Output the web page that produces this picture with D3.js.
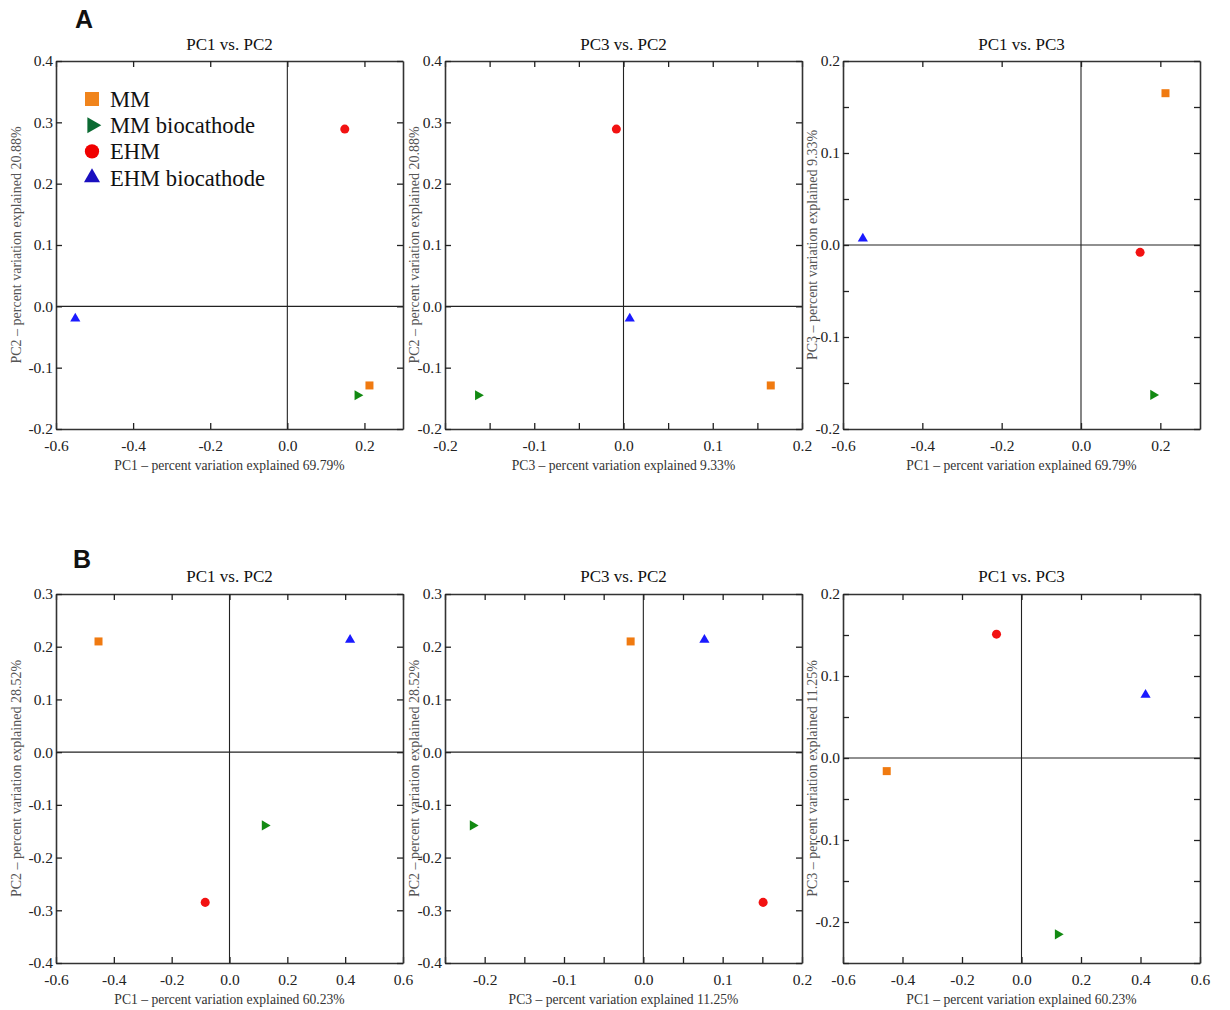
<!DOCTYPE html>
<html>
<head>
<meta charset="utf-8">
<script src="https://cdn.jsdelivr.net/npm/d3@7"></script>
<style>
  body { margin: 0; background: #fff; }
  svg { display: block; }
  text { font-family: "Liberation Serif", "Times New Roman", serif; }
  text.letter { font-family: "Liberation Sans", Arial, sans-serif; font-weight: bold; }
</style>
</head>
<body>
<svg id="chart" width="1230" height="1010"></svg>
<script>
// groups and their scores on the first three axes
const groups = ["MM", "MM biocathode", "EHM", "EHM biocathode"];

// figure A
const pc1A = [0.213, 0.182, 0.149, -0.550];
const pc2A = [-0.129, -0.145, 0.289, -0.020];
const pc3A = [0.165, -0.163, -0.008, 0.007];
const varA = { pc1: "69.79%", pc2: "20.88%", pc3: "9.33%" };

// figure B
const pc1B = [-0.453, 0.122, -0.084, 0.417];
const pc2B = [0.210, -0.139, -0.285, 0.213];
const pc3B = [-0.016, -0.215, 0.151, 0.077];
const varB = { pc1: "60.23%", pc2: "28.52%", pc3: "11.25%" };

const pointColors = ["#f07a10", "#128a12", "#f21212", "#1a1aff"];
const legendColors = ["#f0841c", "#0b6a32", "#f00000", "#1a0fbf"];

const svg = d3.select("#chart");

// frame positions of the 6 panels
const cols = [[56, 403], [445, 802], [843, 1200]];
const rows = [[61, 429], [594, 963]];

const panels = [
  // row A
  { col: 0, row: 0, title: "PC1 vs. PC2", xs: pc1A, ys: pc2A, xLab: "PC1 \u2013 percent variation explained " + varA.pc1, yLab: "PC2 \u2013 percent variation explained " + varA.pc2,
    xd: [-0.6, 0.3], xStep: 0.2, xLabStep: 0.2, yd: [-0.2, 0.4], yStep: 0.1, yLabStep: 0.1, legend: true },
  { col: 1, row: 0, title: "PC3 vs. PC2", xs: pc3A, ys: pc2A, xLab: "PC3 \u2013 percent variation explained " + varA.pc3, yLab: "PC2 \u2013 percent variation explained " + varA.pc2,
    xd: [-0.2, 0.2], xStep: 0.05, xLabStep: 0.1, yd: [-0.2, 0.4], yStep: 0.1, yLabStep: 0.1 },
  { col: 2, row: 0, title: "PC1 vs. PC3", xs: pc1A, ys: pc3A, xLab: "PC1 \u2013 percent variation explained " + varA.pc1, yLab: "PC3 \u2013 percent variation explained " + varA.pc3,
    xd: [-0.6, 0.3], xStep: 0.2, xLabStep: 0.2, yd: [-0.2, 0.2], yStep: 0.05, yLabStep: 0.1 },
  // row B
  { col: 0, row: 1, title: "PC1 vs. PC2", xs: pc1B, ys: pc2B, xLab: "PC1 \u2013 percent variation explained " + varB.pc1, yLab: "PC2 \u2013 percent variation explained " + varB.pc2,
    xd: [-0.6, 0.6], xStep: 0.2, xLabStep: 0.2, yd: [-0.4, 0.3], yStep: 0.1, yLabStep: 0.1 },
  { col: 1, row: 1, title: "PC3 vs. PC2", xs: pc3B, ys: pc2B, xLab: "PC3 \u2013 percent variation explained " + varB.pc3, yLab: "PC2 \u2013 percent variation explained " + varB.pc2,
    xd: [-0.25, 0.2], xStep: 0.05, xLabStep: 0.1, yd: [-0.4, 0.3], yStep: 0.1, yLabStep: 0.1 },
  { col: 2, row: 1, title: "PC1 vs. PC3", xs: pc1B, ys: pc3B, xLab: "PC1 \u2013 percent variation explained " + varB.pc1, yLab: "PC3 \u2013 percent variation explained " + varB.pc3,
    xd: [-0.6, 0.6], xStep: 0.2, xLabStep: 0.2, yd: [-0.25, 0.2], yStep: 0.05, yLabStep: 0.1 }
];

const titleBase = [50, 582];

function tickValues(dom, step) {
  const i0 = Math.ceil(dom[0] / step - 1e-9), i1 = Math.floor(dom[1] / step + 1e-9);
  return d3.range(i0, i1 + 1).map(i => +(i * step).toFixed(4));
}
function fmt(labStep) {
  return d => {
    const r = d / labStep;
    if (Math.abs(r - Math.round(r)) > 1e-6) return "";
    return (Math.round(d * 10) / 10).toFixed(1);
  };
}

// marker shapes, triangle right = up triangle rotated
function marker(sel, gi, size, color) {
  if (gi === 0) {
    sel.append("path").attr("d", d3.symbol(d3.symbolSquare, size)()).attr("fill", color);
  } else if (gi === 1) {
    sel.append("path").attr("d", d3.symbol(d3.symbolTriangle, size * 0.7)()).attr("transform", "rotate(90)").attr("fill", color);
  } else if (gi === 2) {
    sel.append("path").attr("d", d3.symbol(d3.symbolCircle, size)()).attr("fill", color);
  } else {
    sel.append("path").attr("d", d3.symbol(d3.symbolTriangle, size * 0.7)()).attr("fill", color);
  }
}

panels.forEach(p => {
  const [x0, x1] = cols[p.col];
  const [y0, y1] = rows[p.row];
  const x = d3.scaleLinear().domain(p.xd).range([x0, x1]);
  const y = d3.scaleLinear().domain(p.yd).range([y1, y0]);
  const xt = tickValues(p.xd, p.xStep);
  const yt = tickValues(p.yd, p.yStep);
  const g = svg.append("g");

  // zero lines
  g.append("line").attr("x1", x(0)).attr("x2", x(0)).attr("y1", y0).attr("y2", y1)
    .attr("stroke", "#222").attr("stroke-width", 1.1);
  g.append("line").attr("x1", x0).attr("x2", x1).attr("y1", y(0)).attr("y2", y(0))
    .attr("stroke", "#222").attr("stroke-width", 1.1);

  const styleAxis = a => {
    a.selectAll(".domain").attr("stroke", "#333").attr("stroke-width", 1.6);
    a.selectAll(".tick line").attr("stroke", "#222").attr("stroke-width", 1.3);
    a.selectAll("text").attr("font-size", 15.5).attr("fill", "#222");
  };

  g.append("g").attr("transform", `translate(0,${y1})`)
    .call(d3.axisBottom(x).tickValues(xt).tickSizeInner(-6).tickSizeOuter(0).tickPadding(11).tickFormat(fmt(p.xLabStep)))
    .call(styleAxis);
  g.append("g").attr("transform", `translate(0,${y0})`)
    .call(d3.axisTop(x).tickValues(xt).tickSizeInner(-6).tickSizeOuter(0).tickFormat(""))
    .call(styleAxis);
  g.append("g").attr("transform", `translate(${x0},0)`)
    .call(d3.axisLeft(y).tickValues(yt).tickSizeInner(-6).tickSizeOuter(0).tickPadding(3).tickFormat(fmt(p.yLabStep)))
    .call(styleAxis);
  g.append("g").attr("transform", `translate(${x1},0)`)
    .call(d3.axisRight(y).tickValues(yt).tickSizeInner(-6).tickSizeOuter(0).tickFormat(""))
    .call(styleAxis);

  // titles
  g.append("text").attr("x", (x0 + x1) / 2).attr("y", titleBase[p.row])
    .attr("text-anchor", "middle").attr("font-size", 17).attr("fill", "#111").text(p.title);
  g.append("text").attr("x", (x0 + x1) / 2).attr("y", y1 + 41)
    .attr("text-anchor", "middle").attr("font-size", 13.6).attr("fill", "#333").text(p.xLab);
  const yOff = p.col === 0 ? 39 : 30;
  g.append("text")
    .attr("transform", `translate(${x0 - yOff + 4},${(y0 + y1) / 2}) rotate(-90)`)
    .attr("text-anchor", "middle").attr("font-size", 14).attr("fill", "#555").text(p.yLab);

  // points
  groups.forEach((name, i) => {
    const m = g.append("g").attr("transform", `translate(${x(p.xs[i])},${y(p.ys[i])})`);
    marker(m, i, 64, pointColors[i]);
  });

  if (p.legend) {
    const lg = g.append("g").attr("transform", `translate(${x0 + 36},${y0 + 38})`);
    groups.forEach((name, i) => {
      const row = lg.append("g").attr("transform", `translate(0,${i * 26.2})`);
      marker(row, i, i === 0 ? 196 : 160, legendColors[i]);
      row.append("text").attr("x", 18).attr("dy", "0.35em")
        .attr("font-size", 22.6).attr("fill", "#111").text(name);
    });
  }
});

// panel letters
svg.append("text").attr("class", "letter").attr("x", 75).attr("y", 28)
  .attr("font-size", 25).attr("fill", "#111").text("A");
svg.append("text").attr("class", "letter").attr("x", 73).attr("y", 568)
  .attr("font-size", 25).attr("fill", "#111").text("B");
</script>
</body>
</html>
